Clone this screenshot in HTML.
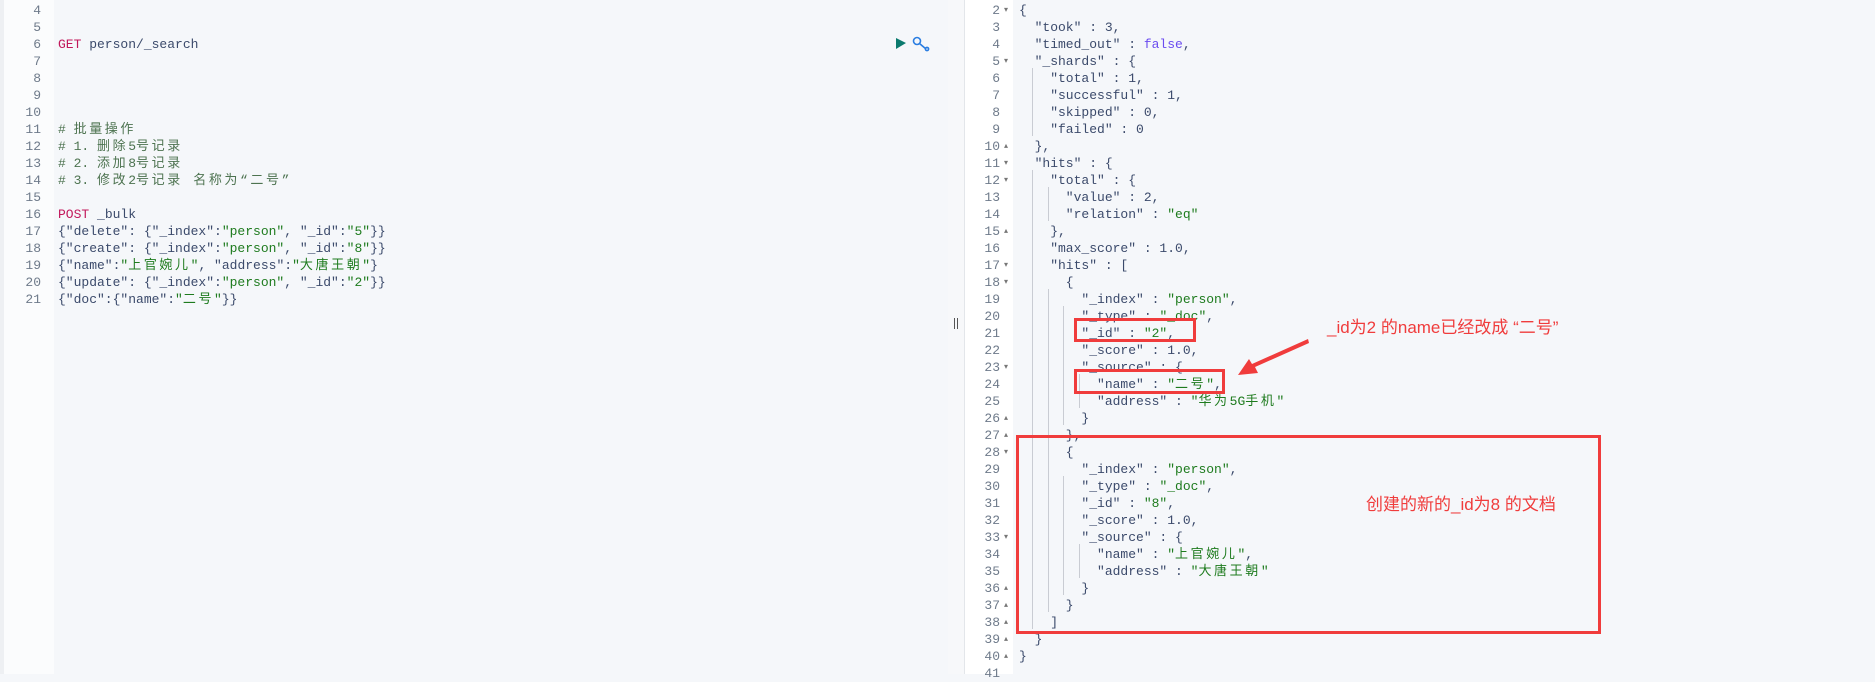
<!DOCTYPE html>
<html><head><meta charset="utf-8"><style>
body{margin:0;width:1875px;height:674px;overflow:hidden;background:#f5f7fa;position:relative;font-family:"Liberation Mono","Noto Sans CJK SC",monospace;font-size:13px;}
.a{position:absolute;}
.l{position:absolute;white-space:pre;height:17px;line-height:17px;color:#3b4a6b;}
.n{position:absolute;white-space:pre;height:17px;line-height:17px;color:#6e7a8a;text-align:right;width:40px;}
.k{color:#3b4f7d}.s{color:#1e7b1e}.c{color:#4d7350}.m{color:#c2185b}.b{color:#6b4cf0}.p{color:#333}
.w{letter-spacing:2.6px}
.f{position:absolute;font-size:8px;color:#777;line-height:17px;}
.g{position:absolute;width:1px;background:#c9ccd3;}
.r{position:absolute;border:3px solid #f03c3c;box-sizing:border-box;}
.t{position:absolute;font-family:"Liberation Sans","Noto Sans CJK SC",sans-serif;color:#f03c3c;font-size:17px;white-space:nowrap;line-height:20px;}
</style></head><body>
<div class="a" style="left:0;top:0;width:4px;height:674px;background:#eef0f3"></div>
<div class="a" style="left:4px;top:0;width:50px;height:674px;background:#fbfcfd"></div>
<div class="a" style="left:948px;top:0;width:16px;height:674px;background:#f7f8fa"></div>
<div class="a" style="left:964px;top:0;width:1px;height:674px;background:#e3e6ea"></div>
<div class="a" style="left:965px;top:0;width:48px;height:674px;background:#fff"></div>
<div class="a" style="left:954px;top:318px;width:1px;height:11px;background:#555"></div>
<div class="a" style="left:957px;top:318px;width:1px;height:11px;background:#555"></div>
<svg class="a" style="left:895px;top:36px" width="40" height="16"><polygon points="1,2 11,7 1,13" fill="#0b7a6e"/><g fill="none" stroke="#2a7de1" stroke-width="1.6"><circle cx="22" cy="5" r="3.5"/><line x1="24.5" y1="7.5" x2="31" y2="13"/><circle cx="32" cy="13" r="1.6"/></g></svg>

<div class="n" style="left:1px;top:1.5px">4</div>
<div class="n" style="left:1px;top:18.5px">5</div>
<div class="n" style="left:1px;top:35.5px">6</div>
<div class="n" style="left:1px;top:52.5px">7</div>
<div class="n" style="left:1px;top:69.5px">8</div>
<div class="n" style="left:1px;top:86.5px">9</div>
<div class="n" style="left:1px;top:103.5px">10</div>
<div class="n" style="left:1px;top:120.5px">11</div>
<div class="n" style="left:1px;top:137.5px">12</div>
<div class="n" style="left:1px;top:154.5px">13</div>
<div class="n" style="left:1px;top:171.5px">14</div>
<div class="n" style="left:1px;top:188.5px">15</div>
<div class="n" style="left:1px;top:205.5px">16</div>
<div class="n" style="left:1px;top:222.5px">17</div>
<div class="n" style="left:1px;top:239.5px">18</div>
<div class="n" style="left:1px;top:256.5px">19</div>
<div class="n" style="left:1px;top:273.5px">20</div>
<div class="n" style="left:1px;top:290.5px">21</div>
<div class="l" style="left:58px;top:35.5px"><span class="m">GET</span> person/_search</div>
<div class="l c" style="left:58px;top:120.5px"># <span class="w">批量操作</span></div>
<div class="l c" style="left:58px;top:137.5px"># 1. <span class="w">删除</span>5<span class="w">号记录</span></div>
<div class="l c" style="left:58px;top:154.5px"># 2. <span class="w">添加</span>8<span class="w">号记录</span></div>
<div class="l c" style="left:58px;top:171.5px"># 3. <span class="w">修改</span>2<span class="w">号记录 名称为“二号”</span></div>
<div class="l" style="left:58px;top:205.5px"><span class="m">POST</span> _bulk</div>
<div class="l" style="left:58px;top:222.5px">{"delete": {"_index":<span class="s">"person"</span>, "_id":<span class="s">"5"</span>}}</div>
<div class="l" style="left:58px;top:239.5px">{"create": {"_index":<span class="s">"person"</span>, "_id":<span class="s">"8"</span>}}</div>
<div class="l" style="left:58px;top:256.5px">{"name":<span class="s">"<span class="w">上官婉儿</span>"</span>, "address":<span class="s">"<span class="w">大唐王朝</span>"</span>}</div>
<div class="l" style="left:58px;top:273.5px">{"update": {"_index":<span class="s">"person"</span>, "_id":<span class="s">"2"</span>}}</div>
<div class="l" style="left:58px;top:290.5px">{"doc":{"name":<span class="s">"<span class="w">二号</span>"</span>}}</div>

<div class="n" style="left:960px;top:1.5px">2</div><div class="f" style="left:1004px;top:1.5px">▾</div>
<div class="n" style="left:960px;top:18.5px">3</div>
<div class="n" style="left:960px;top:35.5px">4</div>
<div class="n" style="left:960px;top:52.5px">5</div><div class="f" style="left:1004px;top:52.5px">▾</div>
<div class="n" style="left:960px;top:69.5px">6</div>
<div class="n" style="left:960px;top:86.5px">7</div>
<div class="n" style="left:960px;top:103.5px">8</div>
<div class="n" style="left:960px;top:120.5px">9</div>
<div class="n" style="left:960px;top:137.5px">10</div><div class="f" style="left:1004px;top:137.5px">▴</div>
<div class="n" style="left:960px;top:154.5px">11</div><div class="f" style="left:1004px;top:154.5px">▾</div>
<div class="n" style="left:960px;top:171.5px">12</div><div class="f" style="left:1004px;top:171.5px">▾</div>
<div class="n" style="left:960px;top:188.5px">13</div>
<div class="n" style="left:960px;top:205.5px">14</div>
<div class="n" style="left:960px;top:222.5px">15</div><div class="f" style="left:1004px;top:222.5px">▴</div>
<div class="n" style="left:960px;top:239.5px">16</div>
<div class="n" style="left:960px;top:256.5px">17</div><div class="f" style="left:1004px;top:256.5px">▾</div>
<div class="n" style="left:960px;top:273.5px">18</div><div class="f" style="left:1004px;top:273.5px">▾</div>
<div class="n" style="left:960px;top:290.5px">19</div>
<div class="n" style="left:960px;top:307.5px">20</div>
<div class="n" style="left:960px;top:324.5px">21</div>
<div class="n" style="left:960px;top:341.5px">22</div>
<div class="n" style="left:960px;top:358.5px">23</div><div class="f" style="left:1004px;top:358.5px">▾</div>
<div class="n" style="left:960px;top:375.5px">24</div>
<div class="n" style="left:960px;top:392.5px">25</div>
<div class="n" style="left:960px;top:409.5px">26</div><div class="f" style="left:1004px;top:409.5px">▴</div>
<div class="n" style="left:960px;top:426.5px">27</div><div class="f" style="left:1004px;top:426.5px">▴</div>
<div class="n" style="left:960px;top:443.5px">28</div><div class="f" style="left:1004px;top:443.5px">▾</div>
<div class="n" style="left:960px;top:460.5px">29</div>
<div class="n" style="left:960px;top:477.5px">30</div>
<div class="n" style="left:960px;top:494.5px">31</div>
<div class="n" style="left:960px;top:511.5px">32</div>
<div class="n" style="left:960px;top:528.5px">33</div><div class="f" style="left:1004px;top:528.5px">▾</div>
<div class="n" style="left:960px;top:545.5px">34</div>
<div class="n" style="left:960px;top:562.5px">35</div>
<div class="n" style="left:960px;top:579.5px">36</div><div class="f" style="left:1004px;top:579.5px">▴</div>
<div class="n" style="left:960px;top:596.5px">37</div><div class="f" style="left:1004px;top:596.5px">▴</div>
<div class="n" style="left:960px;top:613.5px">38</div><div class="f" style="left:1004px;top:613.5px">▴</div>
<div class="n" style="left:960px;top:630.5px">39</div><div class="f" style="left:1004px;top:630.5px">▴</div>
<div class="n" style="left:960px;top:647.5px">40</div><div class="f" style="left:1004px;top:647.5px">▴</div>
<div class="n" style="left:960px;top:664.5px">41</div>

<div class="g" style="left:1032px;top:68px;height:68px"></div>
<div class="g" style="left:1032px;top:170px;height:459px"></div>
<div class="g" style="left:1048px;top:187px;height:34px"></div>
<div class="g" style="left:1048px;top:289px;height:323px"></div>
<div class="g" style="left:1063px;top:306px;height:119px"></div>
<div class="g" style="left:1063px;top:476px;height:119px"></div>
<div class="g" style="left:1079px;top:374px;height:34px"></div>
<div class="g" style="left:1079px;top:544px;height:34px"></div>

<div class="l" style="left:1019px;top:1.5px">{</div>
<div class="l" style="left:1019px;top:18.5px">  "took" : 3,</div>
<div class="l" style="left:1019px;top:35.5px">  "timed_out" : <span class="b">false</span>,</div>
<div class="l" style="left:1019px;top:52.5px">  "_shards" : {</div>
<div class="l" style="left:1019px;top:69.5px">    "total" : 1,</div>
<div class="l" style="left:1019px;top:86.5px">    "successful" : 1,</div>
<div class="l" style="left:1019px;top:103.5px">    "skipped" : 0,</div>
<div class="l" style="left:1019px;top:120.5px">    "failed" : 0</div>
<div class="l" style="left:1019px;top:137.5px">  },</div>
<div class="l" style="left:1019px;top:154.5px">  "hits" : {</div>
<div class="l" style="left:1019px;top:171.5px">    "total" : {</div>
<div class="l" style="left:1019px;top:188.5px">      "value" : 2,</div>
<div class="l" style="left:1019px;top:205.5px">      "relation" : <span class="s">"eq"</span></div>
<div class="l" style="left:1019px;top:222.5px">    },</div>
<div class="l" style="left:1019px;top:239.5px">    "max_score" : 1.0,</div>
<div class="l" style="left:1019px;top:256.5px">    "hits" : [</div>
<div class="l" style="left:1019px;top:273.5px">      {</div>
<div class="l" style="left:1019px;top:290.5px">        "_index" : <span class="s">"person"</span>,</div>
<div class="l" style="left:1019px;top:307.5px">        "_type" : <span class="s">"_doc"</span>,</div>
<div class="l" style="left:1019px;top:324.5px">        "_id" : <span class="s">"2"</span>,</div>
<div class="l" style="left:1019px;top:341.5px">        "_score" : 1.0,</div>
<div class="l" style="left:1019px;top:358.5px">        "_source" : {</div>
<div class="l" style="left:1019px;top:375.5px">          "name" : <span class="s">"<span class="w">二号</span>"</span>,</div>
<div class="l" style="left:1019px;top:392.5px">          "address" : <span class="s">"<span class="w">华为</span>5G<span class="w">手机</span>"</span></div>
<div class="l" style="left:1019px;top:409.5px">        }</div>
<div class="l" style="left:1019px;top:426.5px">      },</div>
<div class="l" style="left:1019px;top:443.5px">      {</div>
<div class="l" style="left:1019px;top:460.5px">        "_index" : <span class="s">"person"</span>,</div>
<div class="l" style="left:1019px;top:477.5px">        "_type" : <span class="s">"_doc"</span>,</div>
<div class="l" style="left:1019px;top:494.5px">        "_id" : <span class="s">"8"</span>,</div>
<div class="l" style="left:1019px;top:511.5px">        "_score" : 1.0,</div>
<div class="l" style="left:1019px;top:528.5px">        "_source" : {</div>
<div class="l" style="left:1019px;top:545.5px">          "name" : <span class="s">"<span class="w">上官婉儿</span>"</span>,</div>
<div class="l" style="left:1019px;top:562.5px">          "address" : <span class="s">"<span class="w">大唐王朝</span>"</span></div>
<div class="l" style="left:1019px;top:579.5px">        }</div>
<div class="l" style="left:1019px;top:596.5px">      }</div>
<div class="l" style="left:1019px;top:613.5px">    ]</div>
<div class="l" style="left:1019px;top:630.5px">  }</div>
<div class="l" style="left:1019px;top:647.5px">}</div>

<div class="r" style="left:1074px;top:318px;width:122px;height:24px"></div>
<div class="r" style="left:1074px;top:369px;width:151px;height:25px"></div>
<div class="r" style="left:1016px;top:435px;width:585px;height:199px"></div>
<div class="t" style="left:1327px;top:318px">_id为2 的name已经改成 “二号”</div>
<div class="t" style="left:1366px;top:495px">创建的新的_id为8 的文档</div>
<svg class="a" style="left:0;top:0" width="1875" height="674"><polygon points="1308,339 1309,343 1255,367 1258,373 1238,375 1249,359 1252,364" fill="#f03c3c"/></svg>
</body></html>
